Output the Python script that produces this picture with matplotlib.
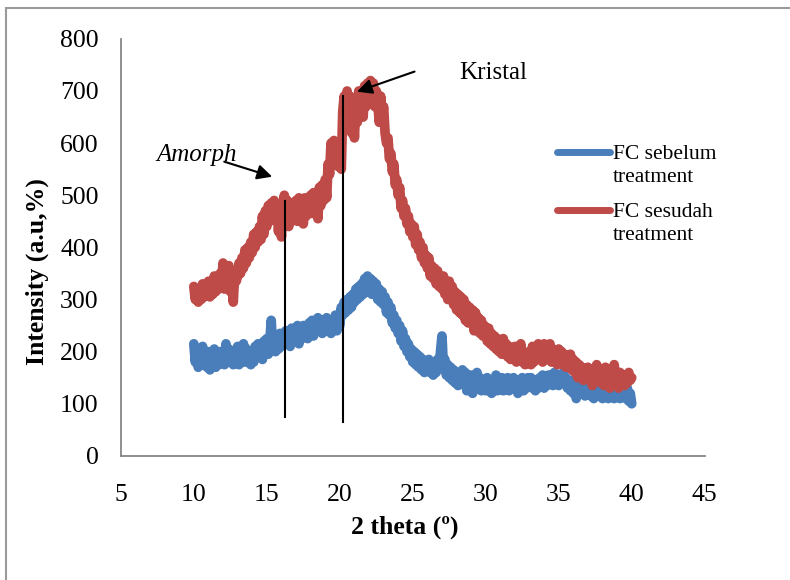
import numpy as np
import matplotlib
matplotlib.use("Agg")
import matplotlib.pyplot as plt
from matplotlib.lines import Line2D
from matplotlib.patches import Rectangle

plt.rcParams['font.family'] = ['Liberation Serif', 'DejaVu Serif']

# scan grid: 10 to 40 degrees, 0.1 step
two_theta = np.round(np.arange(10, 40.001, 0.1), 1)

# FC sesudah treatment (red), 5 values per half degree
sesudah = [
    325, 300, 320, 295, 315,  300, 330, 305, 325, 310,
    335, 305, 330, 310, 345,  315, 340, 320, 350, 325,
    370, 320, 360, 330, 365,  315, 355, 295, 350, 335,
    345, 370, 350, 380, 360,  395, 370, 400, 380, 410,
    390, 425, 400, 430, 410,  440, 415, 460, 425, 470,
    440, 480, 450, 485, 455,  490, 460, 480, 430, 470,
    420, 480, 500, 455, 490,  440, 475, 450, 485, 455,
    490, 450, 495, 460, 480,  445, 495, 460, 490, 470,
    500, 465, 505, 470, 495,  455, 515, 480, 520, 490,
    530, 495, 560, 540, 600,  560, 605, 575, 590, 555,
    600, 550, 660, 690, 640,  700, 650, 690, 620, 670,
    610, 680, 640, 700, 660,  695, 650, 710, 670, 715,
    680, 720, 690, 715, 670,  700, 680, 640, 690, 650,
    670, 620, 600, 610, 570,  580, 545, 560, 520, 530,
    500, 515, 475, 490, 460,  475, 445, 460, 430, 445,
    420, 440, 405, 425, 395,  410, 380, 400, 370, 385,
    360, 380, 345, 365, 340,  360, 330, 355, 325, 345,
    320, 345, 310, 330, 300,  335, 300, 325, 290, 315,
    280, 310, 275, 305, 270,  300, 260, 290, 255, 285,
    265, 280, 240, 275, 250,  265, 235, 260, 230, 250,
    240, 220, 245, 215, 235,  210, 230, 205, 225, 200,
    215, 195, 225, 200, 215,  190, 210, 185, 205, 190,
    210, 180, 200, 185, 215,  180, 200, 175, 195, 185,
    200, 175, 210, 180, 200,  185, 215, 190, 205, 180,
    215, 185, 210, 190, 215,  180, 205, 185, 200, 175,
    205, 180, 200, 175, 195,  170, 190, 175, 195, 165,
    185, 160, 180, 150, 175,  155, 170, 145, 165, 150,
    170, 145, 160, 135, 165,  150, 175, 155, 165, 140,
    160, 135, 170, 140, 155,  130, 165, 140, 175, 145,
    150, 130, 160, 140, 155,  135, 150, 140, 160, 145,
    150,
]

# FC sebelum treatment (blue)
sebelum = [
    215, 180, 205, 170, 200,  175, 210, 180, 195, 170,
    200, 165, 190, 175, 205,  170, 195, 175, 200, 180,
    195, 175, 215, 185, 205,  180, 200, 175, 195, 185,
    210, 175, 200, 185, 215,  180, 205, 190, 200, 175,
    195, 180, 210, 190, 215,  195, 205, 185, 220, 200,
    225, 195, 215, 260, 205,  230, 200, 220, 205, 235,
    210, 230, 215, 240, 220,  235, 210, 245, 220, 235,
    225, 250, 215, 240, 225,  250, 230, 245, 225, 255,
    235, 260, 230, 255, 240,  265, 240, 255, 235, 260,
    245, 265, 240, 260, 235,  255, 245, 270, 240, 260,
    250, 285, 270, 295, 275,  300, 280, 305, 285, 310,
    295, 320, 300, 325, 305,  330, 310, 340, 315, 345,
    320, 340, 310, 335, 315,  330, 300, 320, 295, 315,
    290, 305, 275, 295, 270,  285, 255, 270, 245, 260,
    235, 250, 220, 240, 210,  225, 200, 215, 190, 205,
    180, 200, 175, 195, 170,  190, 165, 185, 160, 180,
    170, 185, 160, 180, 155,  175, 160, 185, 170, 200,
    230, 170, 185, 155, 175,  150, 170, 145, 165, 140,
    160, 135, 155, 140, 165,  140, 160, 125, 150, 135,
    155, 120, 145, 130, 160,  135, 150, 125, 145, 140,
    125, 150, 130, 145, 120,  140, 130, 155, 125, 145,
    130, 150, 125, 145, 135,  150, 125, 145, 130, 150,
    135, 145, 120, 140, 130,  150, 125, 145, 130, 150,
    135, 150, 130, 145, 125,  145, 130, 150, 135, 155,
    130, 150, 135, 155, 140,  155, 135, 160, 140, 150,
    135, 155, 140, 160, 145,  150, 130, 145, 125, 140,
    120, 145, 110, 140, 125,  145, 120, 140, 115, 135,
    125, 140, 115, 135, 110,  130, 120, 140, 115, 135,
    110, 135, 120, 140, 110,  130, 115, 135, 110, 125,
    115, 130, 110, 135, 115,  125, 110, 130, 105, 120,
    100,
]

labels = ["FC sebelum\ntreatment", "FC sesudah\ntreatment"]
colors = ["#4A7EBB", "#BE4B48"]

# marker lines (x, y bottom, y top) in data coords
amorph_line = (16.23, 75, 489)
kristal_line = (20.2, 65, 691)

fig = plt.figure(figsize=(7.9, 5.8), dpi=100)
ax = fig.add_axes([0.153, 0.214, 0.739, 0.719])

ax.plot(two_theta, sebelum, color=colors[0], lw=7, solid_joinstyle='round',
        solid_capstyle='round')
ax.plot(two_theta, sesudah, color=colors[1], lw=7, solid_joinstyle='round',
        solid_capstyle='round')

for xv, y0, y1 in (amorph_line, kristal_line):
    ax.plot([xv, xv], [y0, y1], color='black', lw=1.5)

arrow = dict(arrowstyle='-|>,head_length=0.9,head_width=0.45', color='black', lw=1.5)
ax.annotate("", xy=(15.55, 534), xytext=(11.9, 566), arrowprops=arrow)
ax.annotate("", xy=(21.0, 697), xytext=(25.3, 739), arrowprops=arrow)
ax.text(7.4, 578, "Amorph", fontsize=18, style='italic', va='center')
ax.text(28.2, 735, "Kristal", fontsize=18, va='center')

ax.set_xlim(5, 45)
ax.set_ylim(0, 800)
ax.set_xticks(range(5, 46, 5))
ax.set_yticks(range(0, 801, 100))
ax.tick_params(length=0, labelsize=18.5)
ax.tick_params(axis='y', pad=16)
ax.tick_params(axis='x', pad=20)
for side in ('top', 'right'):
    ax.spines[side].set_visible(False)
for side in ('left', 'bottom'):
    ax.spines[side].set_color('#868686')
    ax.spines[side].set_linewidth(1.3)

fig.text(405 / 790, 1 - 527 / 580, "2 theta (º)", fontsize=18.5,
         fontweight='bold', ha='center', va='center')
fig.text(37 / 790, 1 - 272 / 580, "Intensity (a.u,%)", fontsize=18.5,
         fontweight='bold', rotation=90, ha='center', va='center')

# legend drawn by hand so the swatch sits on the first text line
for i, (lab, col) in enumerate(zip(labels, colors)):
    ly = 1 - (152 + i * 58) / 580
    fig.add_artist(Line2D([557 / 790, 610 / 790], [ly, ly], color=col, lw=5,
                          solid_capstyle='round'))
    fig.text(613 / 790, ly + 0.012, lab, fontsize=15.5, va='top',
             linespacing=1.25)

# outer frame, only left and top edges fall inside the picture
fig.add_artist(Rectangle((6 / 790, -0.1), 2, 1.1 - 8 / 580, fill=False,
                         edgecolor='#9a9a9a', lw=1.5, transform=fig.transFigure))

fig.savefig("out.png", dpi=100)
